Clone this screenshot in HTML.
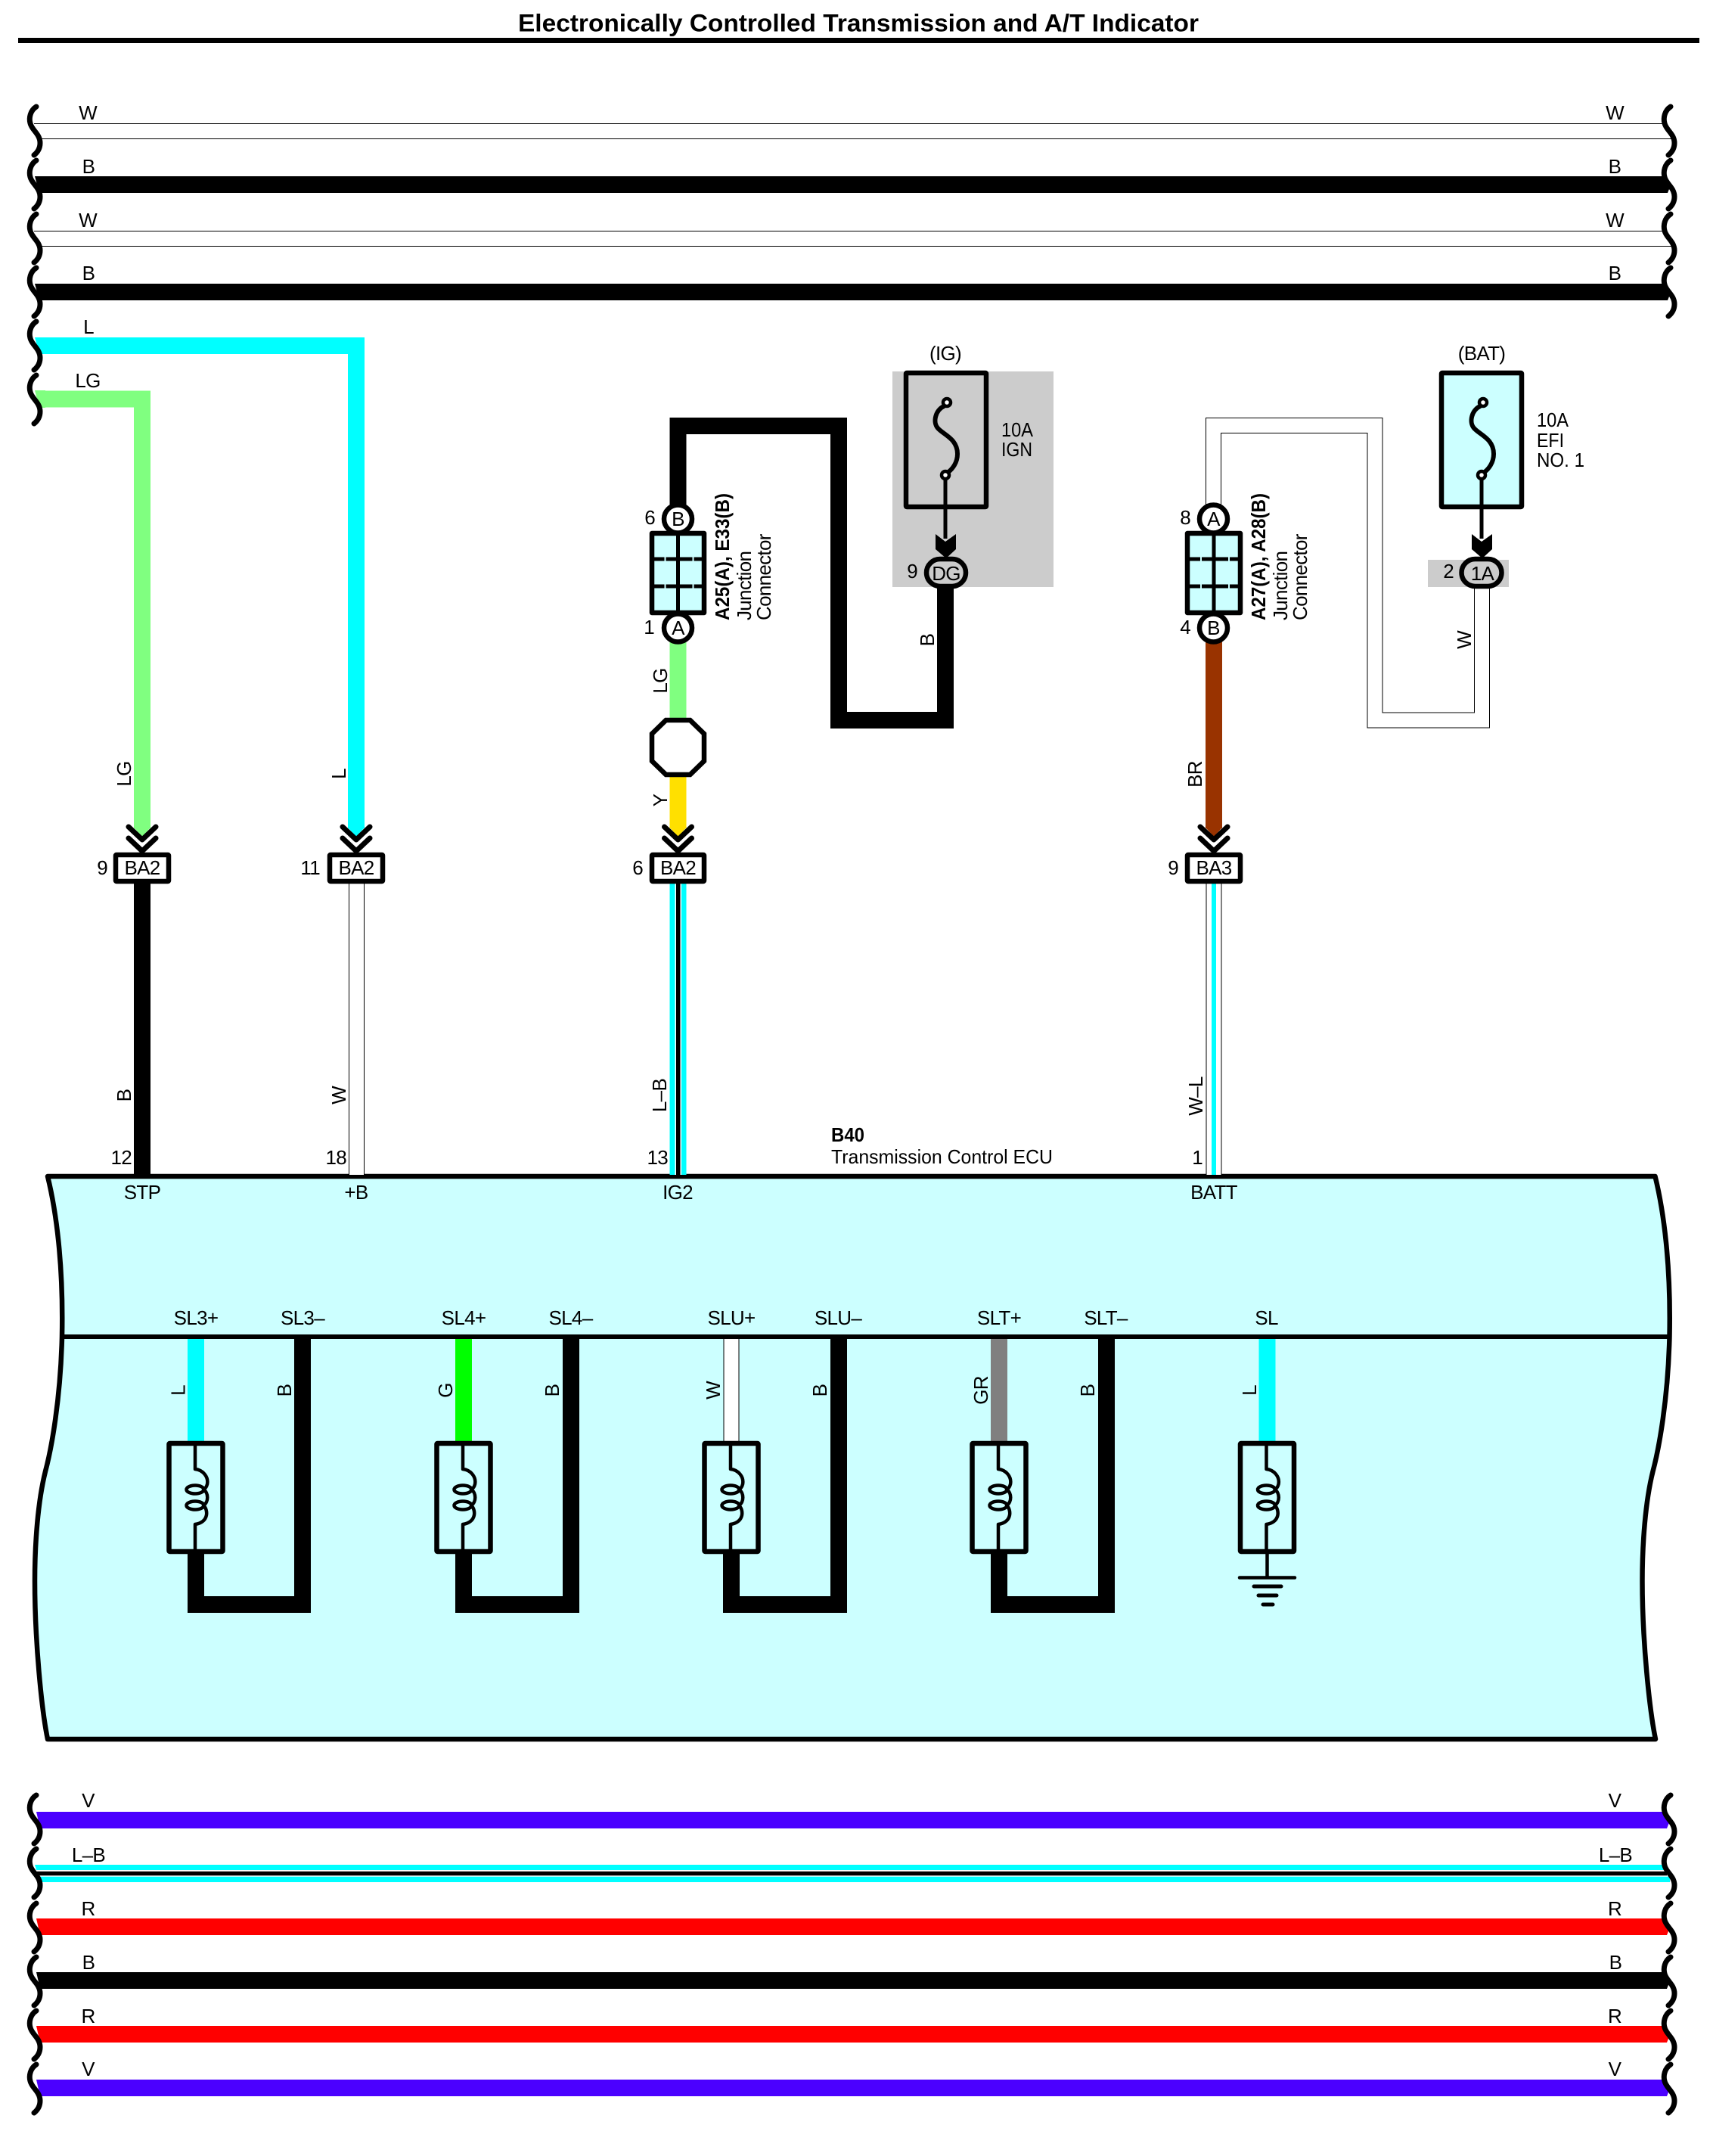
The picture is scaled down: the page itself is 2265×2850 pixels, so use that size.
<!DOCTYPE html>
<html>
<head>
<meta charset="utf-8">
<title>Electronically Controlled Transmission and A/T Indicator</title>
<style>
html,body{margin:0;padding:0;background:#fff;}
svg{display:block;}
text{font-family:"Liberation Sans",Arial,sans-serif;font-size:26px;fill:#000;letter-spacing:-0.7px;}
.n{letter-spacing:0;}
.m{text-anchor:middle;}
.e{text-anchor:end;}
.b{font-weight:bold;}
.s{fill:none;stroke:#000;stroke-linecap:round;stroke-linejoin:round;}
.box{stroke:#000;stroke-width:6.5;stroke-linejoin:round;}
.w{fill:none;stroke-linejoin:miter;}
</style>
</head>
<body>
<svg xmlns="http://www.w3.org/2000/svg" width="2265" height="2850" viewBox="0 0 2265 2850">
<defs>
  <path id="sq" class="s" stroke-width="7" d="M48 2 C40 7 38 17 40 24 C42 33 53 38 53 50 C53 57 50 62 45 66"/>
  <g id="chev">
    <polyline class="s" stroke-width="7" points="-18,1093 0,1110 18,1093"/>
    <polyline class="s" stroke-width="7" points="-18,1108 0,1125 18,1108"/>
  </g>
  <g id="fuse">
    <path class="s" stroke-width="6" d="M1248 537 C1237 542 1233 558 1240 566 C1248 575 1266 580 1266 600 C1266 612 1259 620 1254 624"/>
    <circle cx="1252" cy="532" r="5" fill="#fff" stroke="#000" stroke-width="4.500"/>
    <circle cx="1250" cy="628" r="5" fill="#fff" stroke="#000" stroke-width="4.500"/>
    <line x1="1250" y1="634" x2="1250" y2="712" stroke="#000" stroke-width="5"/>
    <polygon points="1237,706 1250,716 1264,706 1264,726 1251,738 1237,726" fill="#000"/>
  </g>
  <g id="coil">
    <rect x="-35.5" y="1908" width="71" height="143" rx="1" fill="none" class="box"/>
    <path class="s" stroke-width="4.5" d="M-1 1908 V1942 C9 1943 17 1952 15 1962 C14 1966 12 1968 10 1969 C17 1973 17 1986 10 1990 C16 1995 18 2012 -1 2015 V2051"/>
    <ellipse cx="-1" cy="1969" rx="11.5" ry="5.5" fill="none" stroke="#000" stroke-width="4.5"/>
    <ellipse cx="-1" cy="1990" rx="11.5" ry="5.5" fill="none" stroke="#000" stroke-width="4.5"/>
  </g>
  <g id="notch" fill="#CCFFFF">
    <rect x="-18" y="736" width="2" height="6"/>
    <rect x="19" y="736" width="2" height="6"/>
    <rect x="-18" y="772" width="2" height="6"/>
    <rect x="19" y="772" width="2" height="6"/>
  </g>
</defs>

<!-- Title -->
<text class="b n" x="685" y="41.5" style="font-size:32px" textLength="900" lengthAdjust="spacingAndGlyphs">Electronically Controlled Transmission and A/T Indicator</text>
<rect x="24" y="50" width="2223" height="7" fill="#000"/>

<!-- Top bus wires -->
<path d="M45 163.500 H2201 M54 183.500 H2213" stroke="#000" stroke-width="1" fill="none"/>
<polygon points="46,233 2202,233 2209,245 2205,255 52,255" fill="#000"/>
<path d="M45 305.500 H2201 M54 325.500 H2213" stroke="#000" stroke-width="1" fill="none"/>
<polygon points="46,375 2202,375 2209,387 2205,397 52,397" fill="#000"/>

<!-- L / LG feeds -->
<path class="w" d="M50 457 H471 V1095" stroke="#00FFFF" stroke-width="22"/>
<path class="w" d="M50 527.5 H188 V1095" stroke="#80FF80" stroke-width="22"/>
<polygon points="46,446 60,446 60,468 52,468" fill="#00FFFF"/>
<polygon points="46,516 60,516 60,539 52,539" fill="#80FF80"/>
<polygon points="460,1094 482,1094 471,1106" fill="#00FFFF"/>
<polygon points="177,1094 199,1094 188,1106" fill="#80FF80"/>

<!-- Left squiggles top -->
<use href="#sq" x="0" y="139"/><use href="#sq" x="0" y="210"/><use href="#sq" x="0" y="281"/>
<use href="#sq" x="0" y="352"/><use href="#sq" x="0" y="423"/><use href="#sq" x="0" y="494"/>
<!-- Right squiggles top -->
<use href="#sq" x="2161" y="139"/><use href="#sq" x="2161" y="210"/><use href="#sq" x="2161" y="281"/><use href="#sq" x="2161" y="352"/>

<!-- Top labels -->
<text class="m" x="116" y="158">W</text><text class="m" x="117" y="229">B</text>
<text class="m" x="116" y="300">W</text><text class="m" x="117" y="370">B</text>
<text class="m" x="117" y="441">L</text><text class="m" x="116" y="512">LG</text>
<text class="m" x="2135" y="158">W</text><text class="m" x="2135" y="229">B</text>
<text class="m" x="2135" y="300">W</text><text class="m" x="2135" y="370">B</text>

<!-- ECU -->
<path d="M63 1555 C74 1600 84 1670 82 1767 C80 1850 68 1915 60 1945 C50 1985 46 2040 46 2090 C46 2170 55 2260 63 2299 H2189 C2181 2260 2171.500 2170 2171.500 2090 C2171.500 2040 2175.500 1985 2185.500 1945 C2193.500 1915 2205.500 1850 2207.500 1767 C2209.500 1670 2199.500 1600 2188.500 1555 Z" fill="#CCFFFF" stroke="#000" stroke-width="6.500" stroke-linejoin="round"/>
<line x1="82" y1="1767" x2="2207" y2="1767" stroke="#000" stroke-width="6"/>

<!-- Wires from connectors to ECU -->
<rect x="177" y="1168" width="22" height="385" fill="#000"/>
<line x1="471.500" y1="1168" x2="471.500" y2="1553" stroke="#000" stroke-width="21"/>
<line x1="471.500" y1="1168" x2="471.500" y2="1553" stroke="#fff" stroke-width="19"/>
<rect x="885.500" y="1168" width="22" height="385" fill="#00FFFF"/>
<rect x="892.500" y="1168" width="8.500" height="385" fill="#fff"/>
<rect x="894" y="1168" width="5.500" height="385" fill="#000"/>
<line x1="1605" y1="1168" x2="1605" y2="1553" stroke="#000" stroke-width="21"/>
<line x1="1605" y1="1168" x2="1605" y2="1553" stroke="#fff" stroke-width="19"/>
<rect x="1602" y="1168" width="6" height="385" fill="#00FFFF"/>

<!-- Center: junction 1 wires -->
<path class="w" d="M896.500 668 V563 H1109 V952 H1250 V775" stroke="#000" stroke-width="22"/>
<rect x="885.500" y="848" width="22" height="104" fill="#80FF80"/>
<rect x="885.500" y="1024" width="22" height="71" fill="#FFE000"/>
<polygon points="885.500,1094 907.500,1094 896.500,1106" fill="#FFE000"/>

<!-- Grey zones -->
<rect x="1180" y="491" width="213" height="285" fill="#CCCCCC"/>
<rect x="1888" y="740" width="107" height="36" fill="#CCCCCC"/>

<!-- Right W wire -->
<path d="M1604.500 668 V562.500 H1818 V952 H1959.500 V775" fill="none" stroke="#000" stroke-width="21"/>
<path d="M1604.500 670 V562.500 H1818 V952 H1959.500 V773" fill="none" stroke="#fff" stroke-width="19"/>
<rect x="1594" y="848" width="22" height="247" fill="#993300"/>
<polygon points="1594,1094 1616,1094 1605,1106" fill="#993300"/>

<!-- Fuse boxes -->
<rect x="1198" y="493" width="106" height="177" rx="1" fill="none" class="box"/>
<use href="#fuse"/>
<rect x="1906" y="493" width="106" height="177" rx="1" fill="#CCFFFF" class="box"/>
<use href="#fuse" x="709"/>
<!-- Pills -->
<rect x="1225" y="739" width="52" height="36" rx="18" fill="#CCCCCC" class="box"/>
<rect x="1932.500" y="739" width="53" height="36" rx="18" fill="#CCCCCC" class="box"/>
<text class="m" x="1251" y="767">DG</text>
<text class="m" x="1960" y="767">1A</text>
<text class="e" x="1213" y="764">9</text>
<text class="e" x="1922" y="764">2</text>
<text class="m" x="1250" y="476">(IG)</text>
<text class="m" x="1959" y="476">(BAT)</text>
<text class="n" x="1324" y="577" textLength="42" lengthAdjust="spacingAndGlyphs">10A</text>
<text class="n" x="1324" y="603" textLength="41" lengthAdjust="spacingAndGlyphs">IGN</text>
<text class="n" x="2032" y="564" textLength="42" lengthAdjust="spacingAndGlyphs">10A</text>
<text class="n" x="2032" y="591" textLength="36" lengthAdjust="spacingAndGlyphs">EFI</text>
<text class="n" x="2032" y="617" textLength="63" lengthAdjust="spacingAndGlyphs">NO. 1</text>

<!-- Junction connector 1 -->
<circle cx="896.500" cy="686" r="18.500" fill="#fff" stroke="#000" stroke-width="6.500"/>
<circle cx="896.500" cy="830" r="18.500" fill="#fff" stroke="#000" stroke-width="6.500"/>
<rect x="862" y="705" width="69" height="105" fill="#CCFFFF" class="box"/>
<path d="M896.500 705 V810 M862 739 H931 M862 775 H931" stroke="#000" stroke-width="5" fill="none"/>
<use href="#notch" x="896.500"/>
<text class="m" x="896.500" y="695">B</text><text class="m" x="896.500" y="839">A</text>
<text class="e" x="866" y="693">6</text><text class="e" x="865" y="838">1</text>

<!-- Junction connector 2 -->
<circle cx="1604.500" cy="686" r="18.500" fill="#fff" stroke="#000" stroke-width="6.500"/>
<circle cx="1604.500" cy="830" r="18.500" fill="#fff" stroke="#000" stroke-width="6.500"/>
<rect x="1570" y="705" width="70" height="105" fill="#CCFFFF" class="box"/>
<path d="M1605 705 V810 M1570 739 H1640 M1570 775 H1640" stroke="#000" stroke-width="5" fill="none"/>
<use href="#notch" x="1605"/>
<text class="m" x="1604.500" y="695">A</text><text class="m" x="1604.500" y="839">B</text>
<text class="e" x="1574" y="693">8</text><text class="e" x="1574" y="838">4</text>

<!-- Junction rotated text -->
<text class="b n" transform="translate(964,820) rotate(-90)" textLength="168" lengthAdjust="spacingAndGlyphs">A25(A), E33(B)</text>
<text transform="translate(993,820) rotate(-90)">Junction</text>
<text transform="translate(1019,820) rotate(-90)">Connector</text>
<text class="b n" transform="translate(1673,820) rotate(-90)" textLength="168" lengthAdjust="spacingAndGlyphs">A27(A), A28(B)</text>
<text transform="translate(1702,820) rotate(-90)">Junction</text>
<text transform="translate(1728,820) rotate(-90)">Connector</text>

<!-- Octagon -->
<polygon points="880.500,952 912.500,952 931,970 931,1006 912.500,1024 880.500,1024 862,1006 862,970" fill="#fff" stroke="#000" stroke-width="6.500"/>

<!-- Chevrons & connector boxes -->
<use href="#chev" x="188"/><use href="#chev" x="471"/><use href="#chev" x="896.500"/><use href="#chev" x="1605"/>
<rect x="153" y="1130" width="70" height="35" rx="1" fill="#fff" class="box"/>
<rect x="436" y="1130" width="70" height="35" rx="1" fill="#fff" class="box"/>
<rect x="862" y="1130" width="69" height="35" rx="1" fill="#fff" class="box"/>
<rect x="1570" y="1130" width="70" height="35" rx="1" fill="#fff" class="box"/>
<text class="m" x="188" y="1156">BA2</text><text class="m" x="471" y="1156">BA2</text>
<text class="m" x="896.500" y="1156">BA2</text><text class="m" x="1605" y="1156">BA3</text>
<text class="e" x="142" y="1156">9</text><text class="e" x="423" y="1156">11</text>
<text class="e" x="850" y="1156">6</text><text class="e" x="1558" y="1156">9</text>

<!-- Rotated wire labels -->
<text class="m" transform="translate(173,1023) rotate(-90)">LG</text>
<text class="m" transform="translate(457,1023) rotate(-90)">L</text>
<text class="m" transform="translate(882,900) rotate(-90)">LG</text>
<text class="m" transform="translate(882,1058) rotate(-90)">Y</text>
<text class="m" transform="translate(1235,846) rotate(-90)">B</text>
<text class="m" transform="translate(1945,846) rotate(-90)">W</text>
<text class="m" transform="translate(1589,1023.500) rotate(-90)">BR</text>
<text class="m" transform="translate(173,1448) rotate(-90)">B</text>
<text class="m" transform="translate(457,1448) rotate(-90)">W</text>
<text class="m" transform="translate(881,1448) rotate(-90)">L–B</text>
<text class="m" transform="translate(1590,1449) rotate(-90)">W–L</text>

<!-- Pin labels -->
<text class="e" x="174" y="1539">12</text><text class="e" x="458" y="1539">18</text>
<text class="e" x="883" y="1539">13</text><text class="e" x="1590" y="1539">1</text>
<text class="b n" x="1099" y="1509" textLength="44" lengthAdjust="spacingAndGlyphs">B40</text>
<text class="n" x="1099" y="1538" textLength="293" lengthAdjust="spacingAndGlyphs">Transmission Control ECU</text>
<text class="m" x="188" y="1585">STP</text><text class="m" x="471" y="1585">+B</text>
<text class="m" x="896" y="1585">IG2</text><text class="m" x="1605" y="1585">BATT</text>

<!-- Solenoid labels -->
<text class="m" x="259" y="1751">SL3+</text><text class="m" x="400" y="1751">SL3–</text>
<text class="m" x="613" y="1751">SL4+</text><text class="m" x="754.500" y="1751">SL4–</text>
<text class="m" x="967" y="1751">SLU+</text><text class="m" x="1108" y="1751">SLU–</text>
<text class="m" x="1321" y="1751">SLT+</text><text class="m" x="1462" y="1751">SLT–</text>
<text class="m" x="1674.500" y="1751">SL</text>

<!-- Solenoid wires -->
<rect x="248" y="1770" width="22" height="136" fill="#00FFFF"/>
<rect x="602" y="1770" width="22" height="136" fill="#00FF00"/>
<line x1="967" y1="1770" x2="967" y2="1906" stroke="#000" stroke-width="21"/>
<line x1="967" y1="1770" x2="967" y2="1906" stroke="#fff" stroke-width="19"/>
<rect x="1310" y="1770" width="22" height="136" fill="#808080"/>
<rect x="1664.500" y="1770" width="22" height="136" fill="#00FFFF"/>
<path class="w" d="M259 2054 V2121 H400 V1770" stroke="#000" stroke-width="22"/>
<path class="w" d="M613 2054 V2121 H755 V1770" stroke="#000" stroke-width="22"/>
<path class="w" d="M967 2054 V2121 H1109 V1770" stroke="#000" stroke-width="22"/>
<path class="w" d="M1321 2054 V2121 H1463 V1770" stroke="#000" stroke-width="22"/>

<use href="#coil" x="259"/><use href="#coil" x="613"/><use href="#coil" x="967"/><use href="#coil" x="1321"/><use href="#coil" x="1675.500"/>

<!-- Ground -->
<path class="s" stroke-width="4.500" d="M1675.500 2054 V2085.500 M1639 2085.500 H1712"/>
<path class="s" stroke-width="5" d="M1658 2097 H1694 M1664 2109 H1688 M1670 2121 H1683"/>

<!-- Solenoid rotated labels -->
<text class="m" transform="translate(244.500,1838) rotate(-90)">L</text>
<text class="m" transform="translate(385,1838) rotate(-90)">B</text>
<text class="m" transform="translate(598,1838) rotate(-90)">G</text>
<text class="m" transform="translate(739,1838) rotate(-90)">B</text>
<text class="m" transform="translate(952,1838) rotate(-90)">W</text>
<text class="m" transform="translate(1093,1838) rotate(-90)">B</text>
<text class="m" transform="translate(1306,1838) rotate(-90)">GR</text>
<text class="m" transform="translate(1447,1838) rotate(-90)">B</text>
<text class="m" transform="translate(1661,1838) rotate(-90)">L</text>

<!-- Bottom bus wires -->
<polygon points="48,2395 2201,2395 2208,2407 2204,2417 53,2417" fill="#4B00FF"/>
<polygon points="46,2465 2200,2465 2208,2480 2208,2488 53,2488" fill="#00FFFF"/>
<rect x="46" y="2472" width="2162" height="8.700" fill="#fff"/>
<rect x="46" y="2473.800" width="2158" height="5.500" fill="#000"/>
<polygon points="48,2536 2201,2536 2208,2548 2204,2558 53,2558" fill="#FF0000"/>
<polygon points="48,2607 2201,2607 2208,2619 2204,2629 53,2629" fill="#000"/>
<polygon points="48,2678 2201,2678 2208,2690 2204,2700 53,2700" fill="#FF0000"/>
<polygon points="48,2749 2201,2749 2208,2761 2204,2771 53,2771" fill="#4B00FF"/>

<use href="#sq" x="0" y="2371"/><use href="#sq" x="0" y="2442"/><use href="#sq" x="0" y="2514"/>
<use href="#sq" x="0" y="2585"/><use href="#sq" x="0" y="2656"/><use href="#sq" x="0" y="2727"/>
<use href="#sq" x="2161" y="2371"/><use href="#sq" x="2161" y="2442"/><use href="#sq" x="2161" y="2514"/>
<use href="#sq" x="2161" y="2585"/><use href="#sq" x="2161" y="2656"/><use href="#sq" x="2161" y="2727"/>

<text class="m" x="116.500" y="2389">V</text><text class="m" x="117" y="2461">L–B</text>
<text class="m" x="116.500" y="2532">R</text><text class="m" x="117" y="2603">B</text>
<text class="m" x="116.500" y="2674">R</text><text class="m" x="116.500" y="2744">V</text>
<text class="m" x="2135" y="2389">V</text><text class="m" x="2136" y="2461">L–B</text>
<text class="m" x="2135" y="2532">R</text><text class="m" x="2136" y="2603">B</text>
<text class="m" x="2135" y="2674">R</text><text class="m" x="2135" y="2744">V</text>
</svg>
</body>
</html>
